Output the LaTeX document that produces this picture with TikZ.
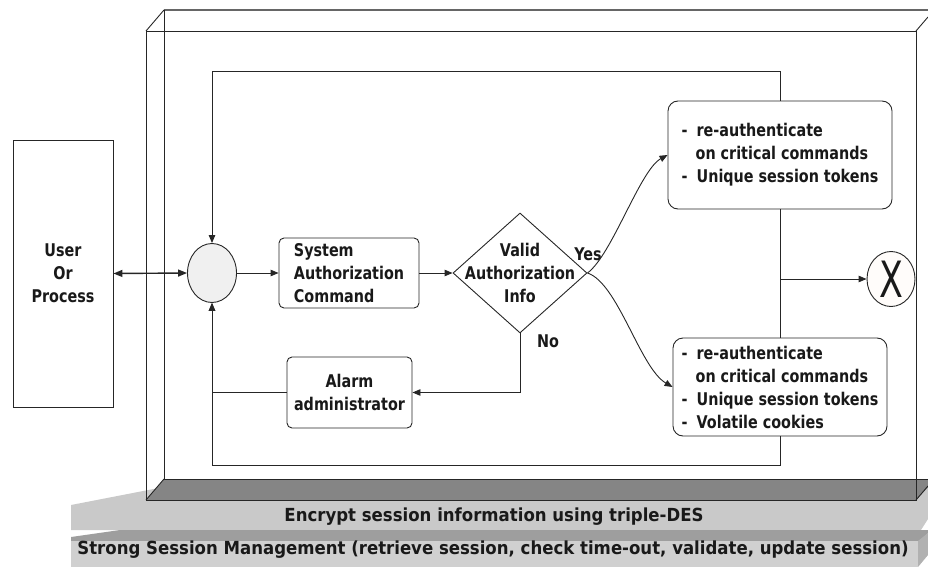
\documentclass[tikz,border=0pt]{standalone}
\usepackage{fontspec}
\usepackage{graphicx}
\setmainfont{DejaVu Sans}[FakeStretch=0.82]
\newfontfamily\bandfont{DejaVu Sans}[FakeStretch=0.92]
\usetikzlibrary{arrows.meta,shapes.geometric}
\definecolor{slablight}{HTML}{C9C9C9}
\definecolor{slabmid}{HTML}{9E9E9E}
\definecolor{slabfront}{HTML}{D0D0D0}
\definecolor{floordark}{HTML}{858585}
\begin{document}
\begin{tikzpicture}[x=1pt,y=-1pt,
  every node/.style={font=\fontsize{17.5}{23}\selectfont\bfseries, text=black!90},
  ln/.style={draw=black!85, line width=0.9pt},
  arr/.style={ln, -{Triangle[length=8pt,width=6.5pt]}},
  rbox/.style={ln, fill=white, rounded corners=5pt, inner sep=0pt},
  bandtext/.style={font=\bandfont\fontsize{18}{20}\selectfont\bfseries}]
\useasboundingbox (0,0) rectangle (928,567);

% --- layered base slabs ---
\fill[slablight] (71,530) -- (71,505) -- (205,479) -- (928,479) -- (928,519) -- (921,530) -- cycle;
\fill[slabmid] (71,541) -- (71,537) -- (120,530) -- (928,530) -- (928,533) -- (921,541) -- cycle;
\fill[slabfront] (71,541) rectangle (918,567);
\fill[slabmid!80] (918,567) -- (918,541) -- (928,533) -- (928,555) -- cycle;
% floor of the box
\fill[floordark] (146,500) -- (164,479) -- (928,479) -- (928,487) -- (916,500) -- cycle;

% --- wire-frame box ---
\draw[ln] (146,31) rectangle (916,500);
\draw[draw=black!60, line width=1.5pt] (164,10) -- (928,10);
\draw[ln] (164,10) -- (164,479) -- (928,479);
\draw[ln] (146,31) -- (164,10);
\draw[ln] (916,31) -- (928,17);
\draw[ln] (146,500) -- (164,479);
\draw[ln] (916,500) -- (928,486);

% --- nodes ---
\node[ln, fill=white, minimum width=100pt, minimum height=267pt, inner sep=0pt, align=center] (user) at (63,273.5) {User\\Or\\Process};
\node[ln, ellipse, fill=black!6, minimum width=49pt, minimum height=59pt, inner sep=0pt] (junc) at (212,273) {};
\node[rbox, minimum width=140pt, minimum height=70pt, align=left] (sys) at (349,273) {System\\Authorization\\Command};
\node[ln, diamond, fill=white, minimum width=134pt, minimum height=120pt, inner sep=0pt] (dia) at (520,273) {};
\node[align=center] (diatxt) at (dia.center) {Valid\\Authorization\\Info};
\node[rbox, minimum width=125pt, minimum height=71pt, align=center] (alarm) at (349.5,392.5) {Alarm\\administrator};
\node[rbox, rounded corners=10pt, minimum width=224pt, minimum height=108pt, align=left] (ur) at (780,155)
  {\makebox[15pt][l]{-}re-authenticate\\\hspace*{14pt}on critical commands\\\makebox[15pt][l]{-}Unique session tokens};
\node[rbox, rounded corners=10pt, minimum width=214pt, minimum height=98pt, align=left] (lr) at (780,387)
  {\makebox[15pt][l]{-}re-authenticate\\\hspace*{14pt}on critical commands\\\makebox[15pt][l]{-}Unique session tokens\\\makebox[15pt][l]{-}Volatile cookies};
\node[ln, ellipse, fill=orange!2, minimum width=48pt, minimum height=55pt, inner sep=0pt] (xend) at (891,279) {};
\node (xmark) at (xend.center) {\fontsize{50}{50}\selectfont\mdseries\scalebox{0.85}[1]{X}};
\node (yes) at (588,254) {Yes};
\node (no) at (548,341) {No};

\coordinate (topc) at (780,71);
\coordinate (botc) at (780,465);
\coordinate (tap) at (780,279);

% --- connectors ---
\draw[ln, line width=1.4pt, {Triangle[length=9pt,width=7pt]}-{Triangle[length=9pt,width=7pt]}] (user.east) -- (junc.west);
\draw[arr] (junc.east) -- (sys.west);
\draw[arr] (sys.east) -- (dia.west);
\draw[arr] (dia.south) |- (alarm.east);
\draw[arr] (alarm.west) -| (junc.south);
\draw[arr] (lr.south) -- (botc) -| (junc.south);
\draw[arr] (ur.north) -- (topc) -| (junc.north);
\draw[ln] (ur.south) -- (lr.north);
\draw[arr] (tap) -- (tap -| xend.west);
\draw[arr] (dia.east) .. controls (612,255) and (640,170) .. (ur.west);
\draw[arr] (dia.east) .. controls (618,283) and (640,368) .. (lr.west);

% --- slab captions ---
\node[bandtext] (enc) at (494,517) {Encrypt session information using triple-DES};
\node[bandtext] (ssm) at (493,550) {Strong Session Management (retrieve session, check time-out, validate, update session)};
\end{tikzpicture}
\end{document}
